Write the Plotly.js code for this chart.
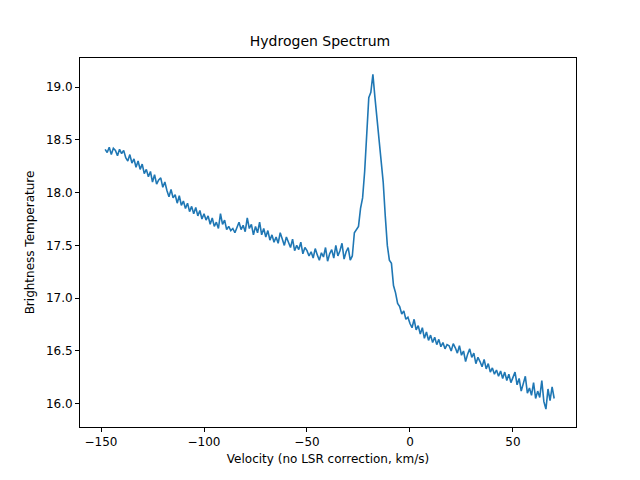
<!DOCTYPE html>
<html>
<head>
<script src="https://cdn.plot.ly/plotly-3.0.1.min.js"></script>
<style>body{margin:0;}</style>
</head>
<body>
<div id="graph" style="width:640px;height:480px;"></div>
<script>
// velocity grid starts at -148 km/s, 1 km/s step
const V_START = -148;
const brightness = [
  18.41,18.38,18.43,18.36,18.42,18.40,18.35,18.41,18.37,18.40,
  18.33,18.30,18.36,18.28,18.32,18.24,18.30,18.22,18.27,18.18,
  18.22,18.15,18.20,18.10,18.17,18.08,18.12,18.14,18.05,18.10,
  18.02,17.96,18.03,17.95,17.98,17.90,17.97,17.88,17.92,17.85,
  17.90,17.82,17.87,17.80,17.86,17.78,17.83,17.75,17.80,17.74,
  17.78,17.70,17.76,17.68,17.72,17.66,17.80,17.70,17.74,17.65,
  17.68,17.64,17.66,17.62,17.67,17.72,17.65,17.69,17.63,17.76,
  17.66,17.70,17.60,17.68,17.62,17.72,17.60,17.66,17.58,17.64,
  17.55,17.60,17.53,17.58,17.52,17.62,17.56,17.50,17.58,17.52,
  17.48,17.56,17.45,17.50,17.46,17.53,17.42,17.48,17.45,17.40,
  17.44,17.38,17.47,17.41,17.36,17.43,17.39,17.48,17.35,17.42,
  17.46,17.38,17.50,17.40,17.45,17.52,17.37,17.44,17.48,17.36,
  17.40,17.62,17.65,17.68,17.85,17.95,18.20,18.60,18.90,18.95,
  19.12,18.90,18.70,18.55,18.30,18.10,17.78,17.50,17.36,17.33,
  17.12,17.05,16.95,16.92,16.85,16.88,16.80,16.82,16.76,16.72,
  16.80,16.70,16.74,16.66,16.72,16.62,16.68,16.60,16.65,16.58,
  16.63,16.56,16.61,16.54,16.58,16.52,16.56,16.55,16.50,16.57,
  16.53,16.48,16.55,16.46,16.50,16.40,16.47,16.52,16.44,16.48,
  16.38,16.44,16.40,16.35,16.42,16.33,16.38,16.30,16.34,16.28,
  16.32,16.26,16.31,16.24,16.30,16.22,16.28,16.20,16.25,16.30,
  16.18,16.24,16.12,16.20,16.26,16.10,16.15,16.08,16.20,16.05,
  16.12,16.06,16.22,16.02,15.95,16.14,16.03,16.16,16.05
];
const velocity = brightness.map((_, i) => V_START + i);

const axisStyle = {
  showgrid: false, zeroline: false, showline: true, mirror: true,
  linecolor: 'black', linewidth: 1, ticks: 'outside', ticklen: 4,
  tickcolor: 'black', tickfont: {size: 12, color: 'black'}
};

Plotly.newPlot('graph', [{
  x: velocity, y: brightness, type: 'scatter', mode: 'lines',
  line: {color: '#1f77b4', width: 1.6}
}], {
  width: 640, height: 480,
  margin: {l: 80, r: 64, t: 58, b: 53},
  font: {family: 'DejaVu Sans', color: 'black'},
  title: {text: 'Hydrogen Spectrum', font: {size: 14}, y: 0.905, yanchor: 'bottom'},
  xaxis: Object.assign({}, axisStyle, {
    range: [-160.2, 80.6], tickvals: [-150, -100, -50, 0, 50],
    ticktext: ['\u2212150', '\u2212100', '\u221250', '0', '50'],
    title: {text: 'Velocity (no LSR correction, km/s)', font: {size: 12}, standoff: 6}
  }),
  yaxis: Object.assign({}, axisStyle, {
    range: [15.78, 19.275], tickvals: [16, 16.5, 17, 17.5, 18, 18.5, 19],
    ticktext: ['16.0', '16.5', '17.0', '17.5', '18.0', '18.5', '19.0'],
    title: {text: 'Brightness Temperature', font: {size: 12}, standoff: 8}
  }),
  showlegend: false
}, {displayModeBar: false});
</script>
</body>
</html>
